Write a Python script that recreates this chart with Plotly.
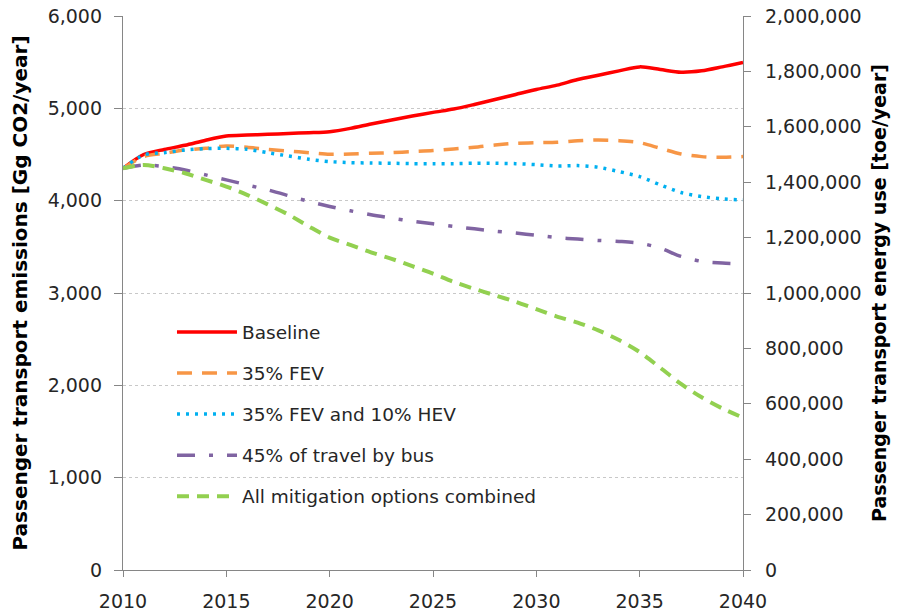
import plotly.graph_objects as go

years = list(range(2010, 2041))

baseline = [4350, 4500, 4555, 4600, 4655, 4700, 4710, 4718, 4728, 4736, 4747,
            4783, 4830, 4873, 4916, 4956, 4992, 5042, 5096, 5150, 5204,
            5251, 5312, 5359, 5406, 5449, 5420, 5391, 5406, 5449, 5496]
fev35 = [4350, 4477, 4513, 4549, 4567, 4592, 4578, 4556, 4538, 4520, 4502,
         4506, 4513, 4520, 4531, 4542, 4560, 4578, 4603, 4621, 4628,
         4632, 4650, 4657, 4650, 4628, 4567, 4506, 4477, 4470, 4477]
fev_hev = [4350, 4495, 4520, 4549, 4563, 4567, 4556, 4520, 4484, 4448, 4423,
           4412, 4408, 4405, 4401, 4401, 4401, 4405, 4405, 4401, 4390,
           4376, 4380, 4362, 4315, 4261, 4171, 4088, 4045, 4019, 4009]
bus45 = [4350, 4385, 4369, 4333, 4279, 4225, 4171, 4117, 4055, 3991, 3937,
         3890, 3847, 3811, 3778, 3749, 3721, 3695, 3670, 3649, 3625,
         3600, 3584, 3569, 3559, 3540, 3486, 3396, 3342, 3324, 3314]
combined = [4350, 4387, 4351, 4297, 4225, 4153, 4063, 3960, 3850, 3720, 3600,
            3520, 3440, 3370, 3290, 3210, 3120, 3045, 2975, 2905, 2825,
            2745, 2680, 2595, 2490, 2360, 2190, 2015, 1870, 1750, 1650]

series_names = ["Baseline", "35% FEV", "35% FEV and 10% HEV",
                "45% of travel by bus", "All mitigation options combined"]
series_values = [baseline, fev35, fev_hev, bus45, combined]
series_colors = ["#FF0000", "#F79646", "#00B0F0", "#8064A2", "#92D050"]
series_dash = ["solid", "15px,10px", "3px,6px", "18px,14px,4px,14px", "12px,8px"]
series_width = [3.5, 3.5, 3.5, 3.5, 4]

FONT = "DejaVu Sans"
TXT = "#262626"
AX = "#868686"

fig = go.Figure()
for i, (n, v, c, d, w) in enumerate(zip(series_names, series_values, series_colors,
                                          series_dash, series_width)):
    fig.add_trace(go.Scatter(
        x=years, y=v, name=n, mode="lines",
        line=dict(color=c, width=w, dash=d, shape="spline", smoothing=0.8),
        legendgroup=f"g{i}", yaxis="y"))

# anchor trace for the secondary (energy) axis
fig.add_trace(go.Scatter(x=[years[0]], y=[None], yaxis="y2", showlegend=False,
                         hoverinfo="skip", mode="lines"))

fig.update_layout(
    width=906, height=614,
    margin=dict(l=123, r=163, t=16, b=44),
    paper_bgcolor="white", plot_bgcolor="white",
    font=dict(family=FONT, size=19, color=TXT),
    showlegend=True,
    legend=dict(x=0.079, y=0.463, xanchor="left", yanchor="top",
                bgcolor="rgba(0,0,0,0)", font=dict(size=18.5, color=TXT),
                traceorder="grouped", tracegroupgap=14, itemwidth=60),
    xaxis=dict(range=[2010, 2040], tickmode="linear", tick0=2010, dtick=5,
               showgrid=False, showline=True, linecolor=AX, linewidth=1.3,
               ticks="outside", ticklen=6, tickcolor=AX, zeroline=False,
               automargin=False, ticklabeloverflow="allow",
               ticklabelstandoff=8, tickfont=dict(size=19, color=TXT)),
    yaxis=dict(range=[0, 6000], tickmode="linear", tick0=0, dtick=1000,
               tickformat=",", showgrid=True, gridcolor="#C8C8C8",
               griddash="3px,3px", gridwidth=1, zeroline=False,
               showline=True, linecolor=AX, linewidth=1.3,
               ticks="outside", ticklen=8, tickcolor=AX, automargin=False,
               ticklabeloverflow="allow",
               ticklabelstandoff=8, tickfont=dict(size=19, color=TXT),
               title=dict(text="Passenger transport emissions [Gg CO2/year]",
                          font=dict(size=20, color="#000000", weight="bold"),
                          standoff=14)),
    yaxis2=dict(range=[0, 2000000], tickmode="linear", tick0=0, dtick=200000,
                tickformat=",", overlaying="y", side="right", showgrid=False,
                zeroline=False, showline=True, linecolor=AX, linewidth=1.3,
                ticks="outside", ticklen=7, tickcolor=AX, automargin=False,
                ticklabeloverflow="allow",
                ticklabelstandoff=10, tickfont=dict(size=19, color=TXT),
                title=dict(text="Passenger transport energy use [toe/year]",
                           font=dict(size=19, color="#000000", weight="bold"),
                           standoff=12)),
)

# remove the default 8px page margin so the figure fills the window exactly
fig.write_html("out.html",
               config={"displayModeBar": False},
               post_script="document.body.style.margin='0';"
                           "document.body.style.overflow='hidden';")
